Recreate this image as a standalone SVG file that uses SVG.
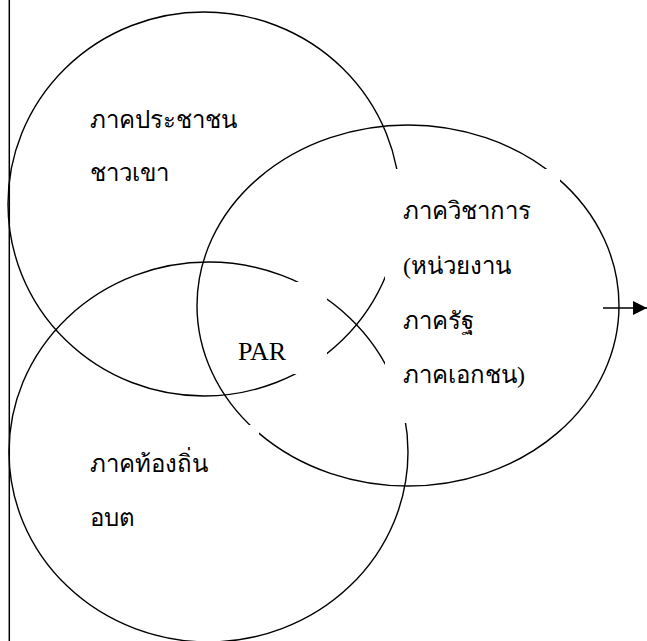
<svg xmlns="http://www.w3.org/2000/svg" width="647" height="641" viewBox="0 0 647 641">
<style>
.ring{fill:none;stroke:#000;stroke-width:1.4}
.t{font-family:"Liberation Serif","DejaVu Serif",serif;font-size:24px;fill:#000}
.p{font-family:"Liberation Serif","DejaVu Serif",serif;font-size:26px;fill:#000}
</style>
<defs>
<mask id="gaps" maskUnits="userSpaceOnUse" x="0" y="0" width="647" height="641">
<rect x="0" y="0" width="647" height="641" fill="#fff"/>
<rect x="385" y="169" width="175" height="254" fill="#000"/>
<rect x="225" y="282" width="102" height="92" fill="#000"/>
<rect x="70" y="425" width="189" height="115" fill="#000"/>
</mask>
<marker id="ah" viewBox="0 0 14 14" refX="14" refY="7" markerWidth="14" markerHeight="14" markerUnits="userSpaceOnUse" orient="auto">
<path d="M0,0 L14,7 L0,14 Z" fill="#000"/>
</marker>
</defs>
<line x1="9.3" y1="0" x2="9.3" y2="641" stroke="#000" stroke-width="1.5"/>
<g id="people">
<ellipse class="ring" cx="204" cy="204" rx="196" ry="192" mask="url(#gaps)"/>
<text class="t" x="90" y="128">ภาคประชาชน</text>
<text class="t" x="90" y="181">ชาวเขา</text>
</g>
<g id="academic">
<ellipse class="ring" cx="408" cy="305.5" rx="211" ry="180.5" mask="url(#gaps)"/>
<text class="t" x="403" y="219">ภาควิชาการ</text>
<text class="t" x="403" y="274">(หน่วยงาน</text>
<text class="t" x="403" y="329">ภาครัฐ</text>
<text class="t" x="403" y="383">ภาคเอกชน)</text>
</g>
<g id="local">
<ellipse class="ring" cx="208.5" cy="452" rx="199.5" ry="190" mask="url(#gaps)"/>
<text class="t" x="90" y="472">ภาคท้องถิ่น</text>
<text class="t" x="90" y="526">อบต</text>
</g>
<g id="par">
<text class="p" x="238" y="360">PAR</text>
</g>
<g id="connectors">
<line x1="603" y1="308" x2="647" y2="308" stroke="#000" stroke-width="1.4" marker-end="url(#ah)"/>
</g>
</svg>
